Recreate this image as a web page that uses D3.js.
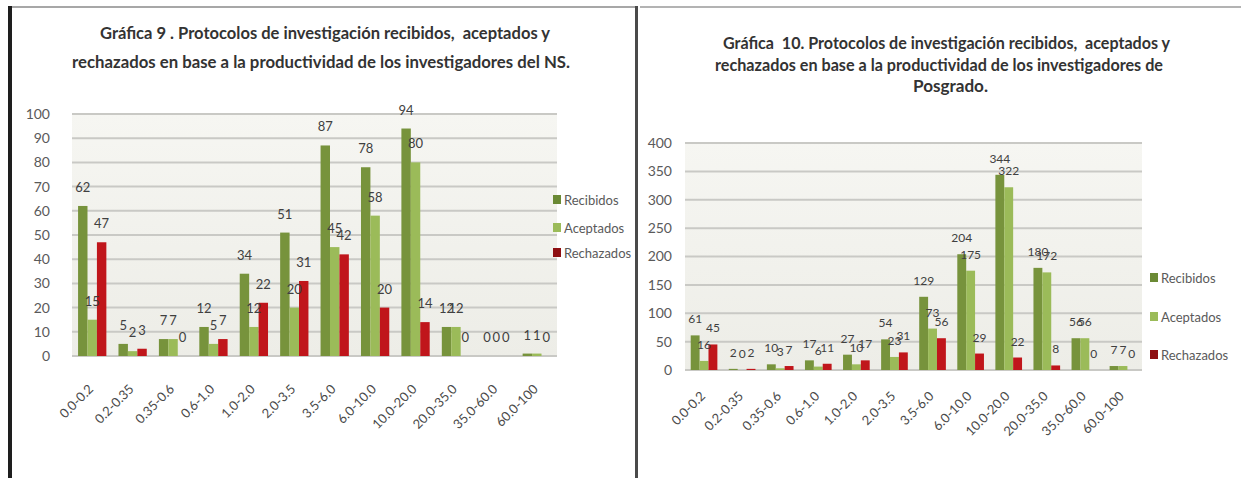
<!DOCTYPE html>
<html>
<head>
<meta charset="utf-8">
<script src="https://cdn.jsdelivr.net/npm/d3@7/dist/d3.min.js"></script>
<style>
    body { margin: 0; background: #fff; }
    svg { display: block; font-family: Lato, "Open Sans", sans-serif; }
    .title { white-space: pre; }
</style>
</head>
<body>
<svg id="chart" width="1241" height="478"></svg>
<script>
const categories = ["0.0-0.2", "0.2-0.35", "0.35-0.6", "0.6-1.0", "1.0-2.0", "2.0-3.5",
    "3.5-6.0", "6.0-10.0", "10.0-20.0", "20.0-35.0", "35.0-60.0", "60.0-100"];
const seriesNames = ["Recibidos", "Aceptados", "Rechazados"];

// Gráfica 9 - NS
const nsRecibidos = [62, 5, 7, 12, 34, 51, 87, 78, 94, 12, 0, 1];
const nsAceptados = [15, 2, 7, 5, 12, 20, 45, 58, 80, 12, 0, 1];
const nsRechazados = [47, 3, 0, 7, 22, 31, 42, 20, 14, 0, 0, 0];
const nsTicks = [0, 10, 20, 30, 40, 50, 60, 70, 80, 90, 100];
const nsTitle = [
    "Gráfica 9 . Protocolos de investigación recibidos,  aceptados y",
    "rechazados en base a la productividad de los investigadores del NS."
];

// Gráfica 10 - Posgrado
const posRecibidos = [61, 2, 10, 17, 27, 54, 129, 204, 344, 180, 56, 7];
const posAceptados = [16, 0, 3, 6, 10, 23, 73, 175, 322, 172, 56, 7];
const posRechazados = [45, 2, 7, 11, 17, 31, 56, 29, 22, 8, 0, 0];
const posTicks = [0, 50, 100, 150, 200, 250, 300, 350, 400];
const posTitle = [
    "Gráfica  10. Protocolos de investigación recibidos,  aceptados y",
    "rechazados en base a la productividad de los investigadores de",
    "Posgrado."
];

const colors = ["#77933c", "#9bbb59", "#c0161b"];
const legendColors = ["#6b8a35", "#9bbb59", "#8e0f12"];

const svg = d3.select("#chart");

svg.append("rect").attr("width", 1241).attr("height", 478).attr("fill", "#fff");

const defs = svg.append("defs");
const grad = defs.append("linearGradient").attr("id", "plotbg").attr("x1", 0).attr("y1", 0).attr("x2", 0).attr("y2", 1);
grad.append("stop").attr("offset", "0%").attr("stop-color", "#f6f6f2");
grad.append("stop").attr("offset", "100%").attr("stop-color", "#ededE7");

defs.append("clipPath").attr("id", "leftclip")
    .append("rect").attr("x", 0).attr("y", 0).attr("width", 634).attr("height", 478);

function drawChart(g, opt) {
    const x = d3.scaleBand()
        .domain(categories)
        .range([opt.left, opt.right])
        .paddingInner(0.3)
        .paddingOuter(0.15);

    const xs = d3.scaleBand()
        .domain(seriesNames)
        .range([0, x.bandwidth()]);

    const y = d3.scaleLinear()
        .domain([0, opt.max])
        .range([opt.bottom, opt.top]);

    // plot area
    g.append("rect")
        .attr("x", opt.left)
        .attr("y", opt.top)
        .attr("width", opt.right - opt.left)
        .attr("height", opt.bottom - opt.top)
        .attr("fill", "url(#plotbg)");

    g.append("g")
        .selectAll("line")
        .data(opt.ticks)
        .join("line")
        .attr("x1", opt.left)
        .attr("x2", opt.right)
        .attr("y1", d => y(d))
        .attr("y2", d => y(d))
        .attr("stroke", "#c9c9c5")
        .attr("stroke-width", 2);

    // y axis
    const yAxis = g.append("g")
        .attr("transform", `translate(${opt.left},0)`)
        .call(d3.axisLeft(y).tickValues(opt.ticks).tickSize(0).tickPadding(opt.yPad));
    yAxis.select(".domain").remove();
    yAxis.selectAll("text")
        .attr("font-size", 14)
        .attr("font-family", "Lato, sans-serif")
        .attr("fill", "#5a5a5a");

    // x axis
    const xAxis = g.append("g")
        .attr("transform", `translate(0,${opt.bottom})`)
        .call(d3.axisBottom(x).tickSize(0));
    xAxis.select(".domain").remove();
    xAxis.selectAll("text")
        .attr("x", 0)
        .attr("y", 0)
        .attr("dy", 0)
        .attr("text-anchor", "end")
        .attr("transform", `translate(2,${opt.labelDy}) rotate(-45)`)
        .attr("font-size", 13)
        .attr("font-family", "Lato, sans-serif")
        .attr("fill", "#4a4a4a");

    // bars
    const groups = g.append("g")
        .selectAll("g")
        .data(categories)
        .join("g")
        .attr("transform", d => `translate(${x(d)},0)`);

    groups.selectAll("rect")
        .data((c, i) => seriesNames.map((s, j) => ({ s, v: opt.series[j][i], j })))
        .join("rect")
        .attr("x", d => xs(d.s))
        .attr("y", d => y(d.v))
        .attr("width", xs.bandwidth())
        .attr("height", d => y(0) - y(d.v))
        .attr("fill", d => colors[d.j]);

    groups.selectAll("text")
        .data((c, i) => seriesNames.map((s, j) => ({ s, v: opt.series[j][i], j })))
        .join("text")
        .attr("x", d => xs(d.s) + xs.bandwidth() / 2)
        .attr("y", d => y(d.v) - opt.labelGap)
        .attr("text-anchor", "middle")
        .attr("font-size", opt.labelSize)
        .attr("fill", "#404040")
        .text(d => d.v);

    // legend
    const legend = g.append("g")
        .attr("clip-path", opt.clip ? "url(#leftclip)" : null)
        .selectAll("g")
        .data(seriesNames)
        .join("g")
        .attr("transform", (d, i) => `translate(${opt.legendX},${opt.legendY[i]})`);

    legend.append("rect")
        .attr("x", 0)
        .attr("y", -5)
        .attr("width", 8)
        .attr("height", 9)
        .attr("fill", (d, i) => legendColors[i]);

    legend.append("text")
        .attr("x", 11)
        .attr("y", 4.5)
        .attr("font-size", 13)
        .attr("fill", "#5a5a5a")
        .text(d => d);

    // title
    g.append("g")
        .selectAll("text")
        .data(opt.title)
        .join("text")
        .attr("class", "title")
        .attr("x", (d, i) => opt.titleX[i])
        .attr("y", (d, i) => opt.titleY[i])
        .attr("textLength", (d, i) => opt.titleW[i])
        .attr("lengthAdjust", "spacingAndGlyphs")
        .attr("font-size", 17)
        .attr("font-weight", 700)
        .attr("fill", "#333")
        .text(d => d);
}

// frames
svg.append("line").attr("x1", 10).attr("x2", 636).attr("y1", 7).attr("y2", 7)
    .attr("stroke", "#8a8a8a").attr("stroke-width", 1.5);
svg.append("line").attr("x1", 640).attr("x2", 1241).attr("y1", 7).attr("y2", 7)
    .attr("stroke", "#9a9a9a").attr("stroke-width", 1.5);

drawChart(svg.append("g"), {
    series: [nsRecibidos, nsAceptados, nsRechazados],
    ticks: nsTicks,
    max: 100,
    left: 72, right: 557, top: 114, bottom: 356,
    yPad: 22,
    labelDy: 34,
    labelGap: 14,
    labelSize: 13,
    legendX: 553,
    legendY: [200, 228, 253],
    clip: true,
    title: nsTitle,
    titleX: [100, 72],
    titleY: [39, 68],
    titleW: [450, 498]
});

drawChart(svg.append("g"), {
    series: [posRecibidos, posAceptados, posRechazados],
    ticks: posTicks,
    max: 400,
    left: 685, right: 1142, top: 143, bottom: 370,
    yPad: 13,
    labelDy: 27,
    labelGap: 12,
    labelSize: 12,
    legendX: 1150,
    legendY: [278, 317, 355],
    clip: false,
    title: posTitle,
    titleX: [723, 715, 913],
    titleY: [49, 71, 92],
    titleW: [447, 448, 75]
});

svg.append("rect").attr("x", 8).attr("y", 6).attr("width", 4).attr("height", 472).attr("fill", "#1e1e1e");
svg.append("rect").attr("x", 635).attr("y", 6).attr("width", 3).attr("height", 472).attr("fill", "#4a4a4a");
</script>
</body>
</html>
